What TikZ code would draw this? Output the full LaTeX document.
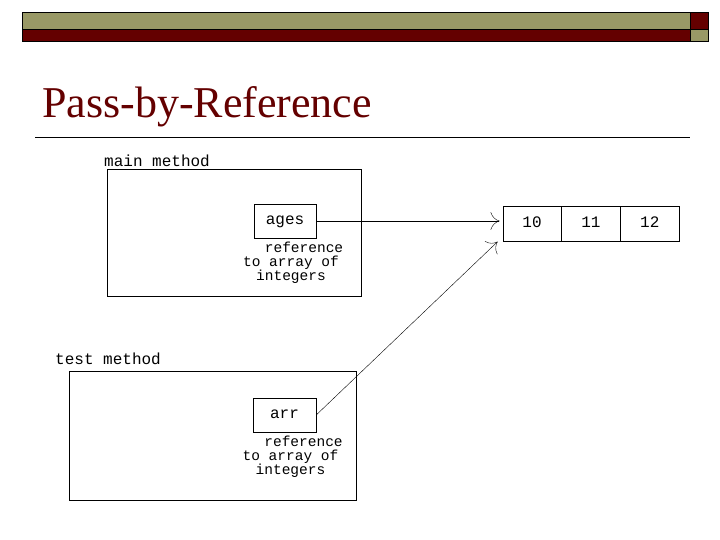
\documentclass[tikz,border=0pt]{standalone}
\usepackage{fontspec}
\setmainfont{Liberation Serif}
\setmonofont{Liberation Mono}
\usetikzlibrary{positioning,arrows.meta}
\definecolor{olive}{RGB}{153,153,102}
\definecolor{darkred}{RGB}{100,0,0}
\newcommand{\monofont}[0]{\ttfamily\fontsize{16}{14.5}\selectfont}
\newcommand{\notefont}[0]{\ttfamily\fontsize{14.5}{14}\selectfont}
\tikzstyle{dedge} = [-{To[length=9pt,width=18pt]},draw=black,thin]
\tikzstyle{var}=[draw=black,thin,rectangle,inner sep=0pt,font=\monofont,text height=9pt,text depth=2pt]
\tikzstyle{cell}=[var,minimum width=58.5pt,minimum height=35pt]
\tikzstyle{note}=[align=center,font=\notefont,inner sep=0pt]
\begin{document}
\begin{tikzpicture}[x=1pt,y=-1pt]
      \useasboundingbox (0,0) rectangle (720,540);
      % header bar
      \filldraw[fill=olive,draw=black,thick] (22,12) rectangle (690,29);
      \filldraw[fill=darkred,draw=black,thick] (22,29) rectangle (690,41);
      \filldraw[fill=darkred,draw=black,thick] (690,12) rectangle (708,29);
      \filldraw[fill=olive,draw=black,thick] (690,29) rectangle (708,41);
      \node[anchor=base west,inner sep=0pt,font=\fontsize{44}{48}\selectfont,text=darkred] (title) at (42,118) {Pass-by-Reference};
      \draw[black] (35,137) -- (690,137);

      % main method
      \draw (107,169) rectangle (361,296);
      \node[anchor=base west,inner sep=0pt,font=\monofont] (mainlbl) at (104,167) {main method};
      \node[var,minimum width=62pt,minimum height=34pt] (ages) at (285,221) {ages};
      \node[note,below=4pt of ages.south,xshift=6pt] (agesnote) {\phantom{to }reference\\to array of\\integers};

      % array
      \node[cell] (c10) at (532,224) {10};
      \node[cell,right=0pt of c10] (c11) {11};
      \node[cell,right=0pt of c11] (c12) {12};

      % test method
      \draw (69,371) rectangle (356,500);
      \node[anchor=base west,inner sep=0pt,font=\monofont] (testlbl) at (55,364) {test method};
      \node[var,minimum width=63pt,minimum height=34pt] (arr) at (284.5,415) {arr};
      \node[note,below=4pt of arr.south,xshift=6pt] (arrnote) {\phantom{to }reference\\to array of\\integers};

      \draw[dedge] (ages.east) -- ([xshift=-3pt]c10.west |- ages.east);
      \draw[dedge] (arr.east) -- ([xshift=-5pt]c10.south west);
    \end{tikzpicture}
\end{document}
